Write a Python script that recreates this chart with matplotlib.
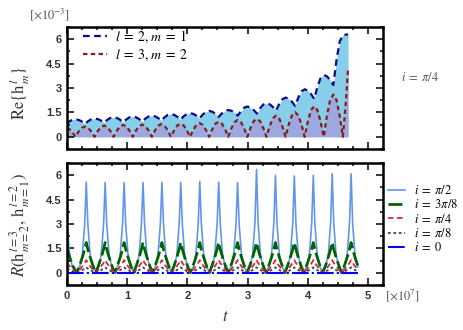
import numpy as np
import matplotlib
matplotlib.use("Agg")
import matplotlib.pyplot as plt
from matplotlib.ticker import MultipleLocator

plt.rcParams['mathtext.fontset'] = 'stix'
plt.rcParams['font.family'] = ['Liberation Serif', 'DejaVu Serif']

# ---- top panel: Re{h^l_m} [x1e-3], sampled every 0.0529 (x1e7) from t=0.034
re21 = [0.78,
        0.93, 1.04, 1.08,
        1.04, 0.94, 0.80, 0.96, 1.08, 1.12,
        1.09, 1.00, 0.88, 1.04, 1.16, 1.20,
        1.16, 1.05, 0.90, 1.07, 1.20, 1.24,
        1.20, 1.09, 0.94, 1.12, 1.25, 1.30,
        1.26, 1.15, 1.00, 1.20, 1.34, 1.39,
        1.35, 1.23, 1.06, 1.26, 1.40, 1.45,
        1.41, 1.30, 1.14, 1.37, 1.53, 1.59,
        1.54, 1.41, 1.22, 1.44, 1.59, 1.65,
        1.60, 1.48, 1.30, 1.58, 1.79, 1.86,
        1.80, 1.65, 1.43, 1.75, 1.98, 2.06,
        2.00, 1.84, 1.61, 2.01, 2.31, 2.41,
        2.34, 2.16, 1.90, 2.41, 2.79, 2.92,
        2.84, 2.63, 2.33, 3.07, 3.61, 3.80,
        3.72, 3.49, 3.18, 4.72, 5.85, 6.25,
        6.28, 6.30]
re32 = [0.53,
        0.50, 0.29, 0.00,
        0.32, 0.55, 0.63, 0.55, 0.32, 0.00,
        0.35, 0.60, 0.69, 0.60, 0.35, 0.00,
        0.37, 0.64, 0.73, 0.64, 0.37, 0.00,
        0.38, 0.65, 0.75, 0.65, 0.38, 0.00,
        0.39, 0.68, 0.78, 0.68, 0.39, 0.00,
        0.40, 0.70, 0.80, 0.70, 0.40, 0.00,
        0.42, 0.73, 0.84, 0.73, 0.42, 0.00,
        0.47, 0.81, 0.93, 0.81, 0.47, 0.00,
        0.52, 0.90, 1.04, 0.90, 0.52, 0.00,
        0.55, 0.96, 1.10, 0.96, 0.55, 0.00,
        0.65, 1.13, 1.30, 1.13, 0.65, 0.00,
        0.76, 1.31, 1.51, 1.31, 0.76, 0.00,
        0.94, 1.64, 1.88, 1.64, 0.94, 0.00,
        1.30, 2.26, 2.60, 2.26, 1.30, 0.00,
        2.30, 4.20]
t_top = np.r_[0.0, 0.034 + 0.0529 * np.arange(88), 4.67]

# ---- bottom panel: ratio R for several inclinations
spike_t = [0.32, 0.634, 0.949, 1.263, 1.577, 1.89, 2.206, 2.52,
           2.834, 3.149, 3.463, 3.777, 4.092, 4.406, 4.72]
offsets = [-0.11, -0.065, -0.026, 0.0, 0.026, 0.065, 0.11, 0.157]
t_start = [0.0, 0.045, 0.09, 0.163]

r_pi2 = [3.05, 1.10, 0.35, 0.08,
         0.35, 1.10, 3.00, 5.58, 3.00, 1.10, 0.35, 0.08,
         0.35, 1.10, 3.00, 5.55, 3.00, 1.10, 0.35, 0.08,
         0.35, 1.10, 3.00, 5.55, 3.00, 1.10, 0.35, 0.08,
         0.35, 1.10, 3.00, 5.55, 3.00, 1.10, 0.35, 0.08,
         0.35, 1.10, 3.00, 5.56, 3.00, 1.10, 0.35, 0.08,
         0.35, 1.10, 3.00, 5.55, 3.00, 1.10, 0.35, 0.08,
         0.35, 1.10, 3.00, 5.62, 3.00, 1.10, 0.35, 0.08,
         0.35, 1.10, 3.00, 5.57, 3.00, 1.10, 0.35, 0.08,
         0.35, 1.10, 3.00, 5.54, 3.00, 1.10, 0.35, 0.08,
         0.35, 1.10, 3.10, 6.35, 3.10, 1.10, 0.35, 0.08,
         0.35, 1.10, 3.05, 5.99, 3.05, 1.10, 0.35, 0.08,
         0.35, 1.10, 3.05, 5.95, 3.05, 1.10, 0.35, 0.08,
         0.35, 1.10, 3.05, 5.99, 3.05, 1.10, 0.35, 0.08,
         0.35, 1.10, 3.05, 6.09, 3.05, 1.10, 0.35, 0.08,
         0.35, 1.10, 3.05, 6.09, 3.05, 1.10, 0.35]
r_3pi8 = [1.50, 0.95, 0.45, 0.00,
          0.45, 0.95, 1.45, 1.86, 1.45, 0.95, 0.45, 0.00,
          0.45, 0.95, 1.45, 1.86, 1.45, 0.95, 0.45, 0.00,
          0.45, 0.95, 1.45, 1.86, 1.45, 0.95, 0.45, 0.00,
          0.45, 0.95, 1.45, 1.86, 1.45, 0.95, 0.45, 0.00,
          0.45, 0.95, 1.45, 1.86, 1.45, 0.95, 0.45, 0.00,
          0.45, 0.95, 1.45, 1.86, 1.45, 0.95, 0.45, 0.00,
          0.45, 0.95, 1.45, 1.86, 1.45, 0.95, 0.45, 0.00,
          0.45, 0.95, 1.45, 1.86, 1.45, 0.95, 0.45, 0.00,
          0.45, 0.95, 1.45, 1.86, 1.45, 0.95, 0.45, 0.00,
          0.45, 0.95, 1.45, 1.86, 1.45, 0.95, 0.45, 0.00,
          0.45, 0.95, 1.45, 1.86, 1.45, 0.95, 0.45, 0.00,
          0.45, 0.95, 1.45, 1.86, 1.45, 0.95, 0.45, 0.00,
          0.45, 0.95, 1.45, 1.86, 1.45, 0.95, 0.45, 0.00,
          0.45, 0.95, 1.45, 1.86, 1.45, 0.95, 0.45, 0.00,
          0.45, 0.95, 1.45, 1.86, 1.45, 0.95, 0.45]
r_pi4 = [0.62, 0.40, 0.19, 0.00,
         0.19, 0.40, 0.61, 0.78, 0.61, 0.40, 0.19, 0.00,
         0.19, 0.40, 0.61, 0.78, 0.61, 0.40, 0.19, 0.00,
         0.19, 0.40, 0.61, 0.78, 0.61, 0.40, 0.19, 0.00,
         0.19, 0.40, 0.61, 0.78, 0.61, 0.40, 0.19, 0.00,
         0.19, 0.40, 0.61, 0.78, 0.61, 0.40, 0.19, 0.00,
         0.19, 0.40, 0.61, 0.78, 0.61, 0.40, 0.19, 0.00,
         0.19, 0.40, 0.61, 0.78, 0.61, 0.40, 0.19, 0.00,
         0.19, 0.40, 0.61, 0.78, 0.61, 0.40, 0.19, 0.00,
         0.19, 0.40, 0.61, 0.78, 0.61, 0.40, 0.19, 0.00,
         0.19, 0.40, 0.61, 0.78, 0.61, 0.40, 0.19, 0.00,
         0.19, 0.40, 0.61, 0.78, 0.61, 0.40, 0.19, 0.00,
         0.19, 0.40, 0.61, 0.78, 0.61, 0.40, 0.19, 0.00,
         0.19, 0.40, 0.61, 0.78, 0.61, 0.40, 0.19, 0.00,
         0.19, 0.40, 0.61, 0.78, 0.61, 0.40, 0.19, 0.00,
         0.19, 0.40, 0.61, 0.78, 0.61, 0.40, 0.19]
r_pi8 = [0.26, 0.17, 0.08, 0.00,
         0.08, 0.17, 0.26, 0.33, 0.26, 0.17, 0.08, 0.00,
         0.08, 0.17, 0.26, 0.33, 0.26, 0.17, 0.08, 0.00,
         0.08, 0.17, 0.26, 0.33, 0.26, 0.17, 0.08, 0.00,
         0.08, 0.17, 0.26, 0.33, 0.26, 0.17, 0.08, 0.00,
         0.08, 0.17, 0.26, 0.33, 0.26, 0.17, 0.08, 0.00,
         0.08, 0.17, 0.26, 0.33, 0.26, 0.17, 0.08, 0.00,
         0.08, 0.17, 0.26, 0.33, 0.26, 0.17, 0.08, 0.00,
         0.08, 0.17, 0.26, 0.33, 0.26, 0.17, 0.08, 0.00,
         0.08, 0.17, 0.26, 0.33, 0.26, 0.17, 0.08, 0.00,
         0.08, 0.17, 0.26, 0.33, 0.26, 0.17, 0.08, 0.00,
         0.08, 0.17, 0.26, 0.33, 0.26, 0.17, 0.08, 0.00,
         0.08, 0.17, 0.26, 0.33, 0.26, 0.17, 0.08, 0.00,
         0.08, 0.17, 0.26, 0.33, 0.26, 0.17, 0.08, 0.00,
         0.08, 0.17, 0.26, 0.33, 0.26, 0.17, 0.08, 0.00,
         0.08, 0.17, 0.26, 0.33, 0.26, 0.17, 0.08]
t_bot = np.r_[t_start, (np.array(spike_t)[:, None] + offsets).ravel()[:-1]]
r_0 = [0.0] * len(t_bot)

yticks = [0, 1.5, 3, 4.5, 6]
ytick_labels = ['0', '1.5', '3', '4.5', '6']
xticks = [0, 1, 2, 3, 4, 5]

fig = plt.figure(figsize=(4.64, 3.30), dpi=100)
ax1 = fig.add_axes([0.1444, 0.5485, 0.681, 0.3697])
ax2 = fig.add_axes([0.1444, 0.1364, 0.681, 0.3697])

ax1.fill_between(t_top, 0, re21, color='#87CEEB', lw=0)
ax1.fill_between(t_top, 0, re32, color='#9DA9DE', lw=0)
ax1.plot(t_top, re21, color='#0A0A8C', lw=1.6, ls=(0, (3, 2)), label='$l\\;=\\;2, m\\;=\\;1$')
ax1.plot(t_top, re32, color='#8B1A1A', lw=1.6, ls=(0, (2, 1.5)), label='$l\\;=\\;3, m\\;=\\;2$')
ax1.legend(loc='upper left', bbox_to_anchor=(0.045, 1.0), frameon=False, fontsize=10,
           borderaxespad=0, borderpad=0.1, handlelength=1.75, handletextpad=0.6,
           labelspacing=0.2)

ax2.plot(t_bot, r_pi2, color='#6495ED', lw=1.2, label='$i\\;=\\;\\pi/2$')
ax2.plot(t_bot, r_3pi8, color='#006400', lw=2.0, ls=(0, (5, 1.5)), label='$i\\;=\\;3\\pi/8$')
ax2.plot(t_bot, r_pi4, color='#E0203C', lw=1.3, ls=(0, (3, 2)), label='$i\\;=\\;\\pi/4$')
ax2.plot(t_bot, r_pi8, color='#2F4F4F', lw=1.3, ls=(0, (1.5, 1.5)), label='$i\\;=\\;\\pi/8$')
ax2.plot(t_bot, r_0, color='#0000FF', lw=1.5, ls=(0, (8, 1.5, 1, 1.5)), label='$i\\;=\\;0$')
ax2.legend(loc='upper left', bbox_to_anchor=(0.836, 0.442), bbox_transform=fig.transFigure,
           frameon=False, fontsize=9, borderaxespad=0, borderpad=0, handlelength=1.4,
           handletextpad=0.65, labelspacing=0.1)

for ax in (ax1, ax2):
    ax.set_xlim(0, 5.25)
    ax.set_ylim(-0.75, 6.75)
    ax.set_xticks(xticks)
    ax.set_yticks(yticks)
    ax.set_yticklabels(ytick_labels)
    ax.xaxis.set_minor_locator(MultipleLocator(0.25))
    ax.yaxis.set_minor_locator(MultipleLocator(0.75))
    ax.tick_params(which='both', direction='in', top=True, right=True, width=1.1, color='black')
    ax.tick_params(which='major', length=5, pad=4)
    ax.tick_params(which='minor', length=2.5)
    for s in ax.spines.values():
        s.set_linewidth(1.8)
    for lab in ax.get_xticklabels() + ax.get_yticklabels():
        lab.set_fontfamily('Liberation Sans')
        lab.set_fontweight('bold')
        lab.set_fontsize(8)
        lab.set_color('#333333')

ax1.set_xticklabels([])

fig.text(0.043, 0.717, '$\\mathrm{Re}\\{\\mathrm{h}^{\\,l}_{\\,m}\\}$', rotation=90,
         ha='center', va='center', fontsize=12, color='#333333')
fig.text(0.043, 0.318, '$R(\\mathrm{h}^{\\,l=3}_{\\,m=2},\\,\\mathrm{h}^{\\,l=2}_{\\,m=1})$',
         rotation=90, ha='center', va='center', fontsize=12, color='#333333')
fig.text(0.106, 0.955, '$[\\times10^{-3}]$', ha='center', va='center', fontsize=9, color='#555555')
fig.text(0.868, 0.103, '$[\\times10^{7}]$', ha='center', va='center', fontsize=9, color='#555555')
fig.text(0.905, 0.764, '$i\\;=\\;\\pi/4$', ha='center', va='center', fontsize=9, color='#555555')
fig.text(0.485, 0.04, '$t$', ha='center', va='center', fontsize=12, color='#333333')

fig.savefig('out.png', dpi=100)
